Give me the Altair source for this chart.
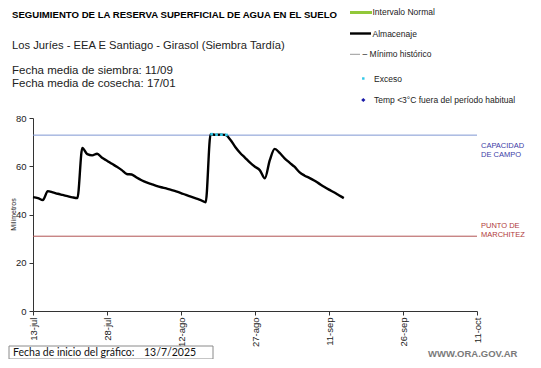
import altair as alt
import pandas as pd

# ---- data ----
dias = list(range(64))  # days since 13/7/2025
almacenaje = [47.2, 46.8, 46.0, 49.7, 49.2, 48.6, 48.1, 47.6, 47.1, 46.8,
              67.6, 65.0, 64.5, 65.2, 63.5, 62.3, 61.0, 59.8, 58.4, 56.8,
              56.6, 55.3, 54.2, 53.3, 52.6, 51.9, 51.3, 50.8, 50.2, 49.6,
              48.9, 48.1, 47.4, 46.7, 46.0, 45.1, 73.3, 73.0, 73.1, 73.0,
              71.0, 68.0, 65.5, 63.5, 61.5, 59.8, 58.3, 55.0, 62.5, 67.2,
              65.5, 63.3, 61.5, 59.8, 57.6, 56.2, 55.2, 54.1, 52.8, 51.5,
              50.3, 49.2, 48.0, 46.8]
exceso_dias = [36.2, 37.2, 38.2, 39.2]
exceso_vals = [73.3, 73.1, 73.1, 73.0]
tick_dias = [0, 15, 30, 45, 60, 75, 90]
tick_labels = ["13-jul", "28-jul", "12-ago", "27-ago", "11-sep", "26-sep", "11-oct"]
capacidad_campo = 72.9
punto_marchitez = 31.0

FONT = "Liberation Sans"

df = pd.DataFrame({"dia": dias, "mm": almacenaje})
df_exc = pd.DataFrame({"dia": exceso_dias, "mm": exceso_vals})
one = pd.DataFrame({"k": [0]})

label_expr = ""
for d, l in zip(tick_dias, tick_labels):
    label_expr += f"datum.value == {d} ? '{l}' : "
label_expr += "''"

xenc = alt.X("dia:Q", scale=alt.Scale(domain=[0, 90], nice=False, zero=False),
             axis=alt.Axis(values=tick_dias, labelExpr=label_expr, labelAngle=-90,
                           labelFont=FONT, labelFontSize=9.5, labelColor="#222",
                           tickSize=4, tickColor="#333", domainColor="#333",
                           labelPadding=2, grid=False, title=None))
yenc = alt.Y("mm:Q", scale=alt.Scale(domain=[0, 80], nice=False, zero=True),
             axis=alt.Axis(values=list(range(0, 81, 10)), labelFont=FONT,
                           labelFontSize=9.5, labelColor="#222", tickSize=4,
                           tickColor="#333", domainColor="#333", grid=False,
                           labelPadding=3, title="Milímetros", titleFont=FONT,
                           titleFontSize=7, titleFontWeight="normal",
                           titleColor="#222", titleX=-20, titleY=96,
                           titleAngle=-90, titleAlign="center",
                           titleBaseline="middle"))

linea = alt.Chart(df).mark_line(color="black", strokeWidth=2.4,
                                interpolate="monotone").encode(x=xenc, y=yenc)
exceso = alt.Chart(df_exc).mark_square(color="#30c8e8", size=7, opacity=1).encode(
    x="dia:Q", y="mm:Q")

ref_cc = alt.Chart(pd.DataFrame({"v": [capacidad_campo]})).mark_rule(
    color="#7f97d2", strokeWidth=1).encode(y="v:Q")
ref_pm = alt.Chart(pd.DataFrame({"v": [punto_marchitez]})).mark_rule(
    color="#b25454", strokeWidth=1).encode(y="v:Q")


def txt(s, x, y, size=9, color="black", weight="normal", font=FONT, align="left"):
    return alt.Chart(one).mark_text(text=s, font=font, fontSize=size, color=color,
                                    fontWeight=weight, align=align,
                                    baseline="alphabetic").encode(
        x=alt.value(x), y=alt.value(y))


def rect(x, x2, y, y2, fill, stroke=None):
    kw = dict(fill=fill)
    if stroke:
        kw.update(stroke=stroke, strokeWidth=1)
    return alt.Chart(one).mark_rect(**kw).encode(
        x=alt.value(x), x2=alt.value(x2), y=alt.value(y), y2=alt.value(y2))


def hline(x, x2, y, color, width):
    return alt.Chart(one).mark_rule(color=color, strokeWidth=width).encode(
        x=alt.value(x), x2=alt.value(x2), y=alt.value(y))


anot = [
    txt("SEGUIMIENTO DE LA RESERVA SUPERFICIAL DE AGUA EN EL SUELO", -21, -100,
        size=9.6, weight="bold"),
    txt("Los Juríes  - EEA E Santiago - Girasol (Siembra Tardía)", -21, -69, size=11.2,
        color="#222"),
    txt("Fecha media de siembra: 11/09", -21, -44, size=11.5, color="#222"),
    txt("Fecha media de cosecha: 17/01", -21, -31, size=11.5, color="#222"),
    # legend
    rect(317, 339, -107, -104, "#92c83a"),
    txt("Intervalo Normal", 339.5, -103, size=8.5, color="#222"),
    hline(317, 338, -84.5, "black", 2.4),
    txt("Almacenaje", 339.5, -81.5, size=8.5, color="#222"),
    hline(317, 327, -63.7, "#999999", 1),
    txt("– Mínimo histórico", 329.5, -61, size=8.5, color="#222"),
    alt.Chart(one).mark_square(color="#30c8e8", size=6, opacity=1).encode(
        x=alt.value(330.3), y=alt.value(-39.5)),
    txt("Exceso", 341, -36.5, size=8.5, color="#222"),
    alt.Chart(one).mark_point(shape="diamond", filled=True, color="#1a1aa8", size=18,
                              opacity=1).encode(x=alt.value(330.3), y=alt.value(-18)),
    txt("Temp <3°C fuera del período habitual", 341, -15, size=8.5, color="#222"),
    # right-side labels
    txt("CAPACIDAD", 448, 29.5, size=7.5, color="#3c3ca6"),
    txt("DE  CAMPO", 448, 38.5, size=7.5, color="#3c3ca6"),
    txt("PUNTO  DE", 448, 109.5, size=7.5, color="#b03a3a"),
    txt("MARCHITEZ", 448, 118.5, size=7.5, color="#b03a3a"),
    # bottom box
    rect(-24, 180, 228, 241, "white", stroke="#8a8a8a"),
    txt("Fecha de inicio del gráfico:", -20, 238, size=10.5, color="#111", font="Lato"),
    txt("13/7/2025", 111, 238, size=10.5, color="#111", font="Lato"),
    txt("WWW.ORA.GOV.AR", 395, 239, size=9.5, color="#7a7a7a", weight="bold"),
]

chart = alt.layer(ref_cc, ref_pm, linea, exceso, *anot).properties(
    width=444, height=193,
    padding={"left": 25, "top": 110, "right": 56, "bottom": 48},
    autosize=alt.AutoSizeParams(type="none"),
).configure_view(stroke=None)

chart.save("out.html", embed_options={"renderer": "svg", "actions": False})
